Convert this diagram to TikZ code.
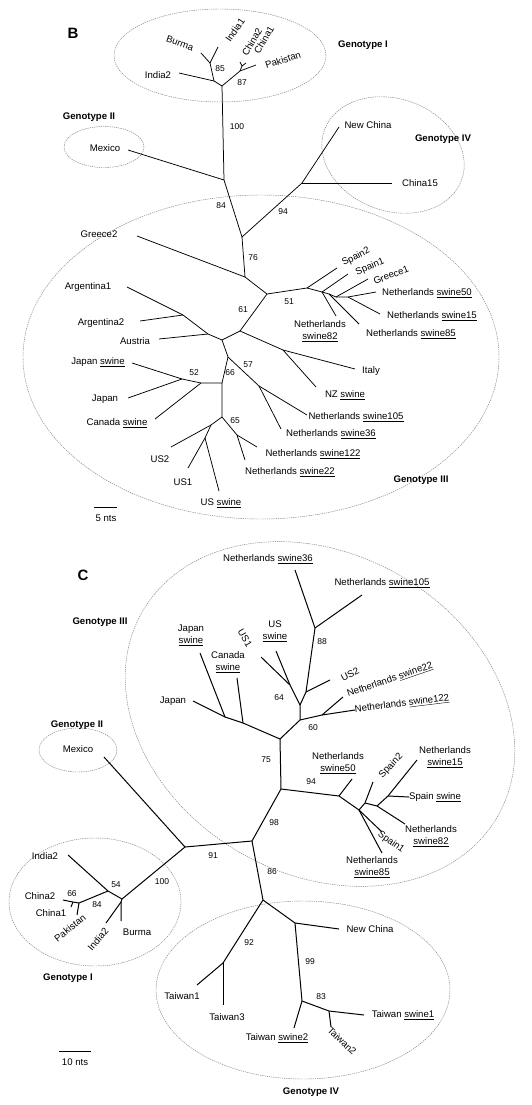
\documentclass[tikz,border=0pt]{standalone}
\usepackage{fontspec}
\setmainfont{Liberation Sans}
\newcommand{\sw}[1]{\underline{#1}}
\begin{document}
\begin{tikzpicture}[x=1pt,y=-1pt,
  br/.style={line width=0.75pt},
  brc/.style={line width=1pt},
  lab/.style={font=\fontsize{9.6}{12}\selectfont, inner sep=0pt, align=center},
  bs/.style={font=\fontsize{8.5}{10}\selectfont, inner sep=0pt},
  geno/.style={font=\fontsize{9.6}{11}\selectfont\bfseries, inner sep=0pt},
  grp/.style={draw=gray, line width=0.45pt, dash pattern=on 1.3pt off 0.9pt},
  panel/.style={font=\fontsize{15}{17}\selectfont\bfseries, inner sep=0pt}]
\useasboundingbox (0,0) rectangle (531,1105);
\fill[white] (0,0) rectangle (531,1105);

% ================= Panel B =================
\node[panel] (pB) at (73,33) {B};
\draw[grp] (220,55.5) ellipse [x radius=106pt, y radius=46.5pt];
\draw[grp] (104,147) ellipse [x radius=40pt, y radius=20.5pt];
\draw[grp, rotate around={-20:(393,155)}] (393,155) ellipse [x radius=73pt, y radius=56pt];
\draw[grp] (261,357) ellipse [x radius=238pt, y radius=162pt];

\foreach \n/\p in {T/{222,86}, nA/{214,81}, n85/{210,63}, lBurma/{201,53}, lIndiaA/{218,47},
  lIndiaB/{179,73}, n87/{240,71}, nCh/{242,66}, lChB/{240,62}, lChA/{246,63}, lPak/{256,65},
  J1/{224,180}, lMex/{128,150}, J2/{242,237}, n94/{302,183}, lNewChina/{339,127}, lChinaF/{392,183},
  J76/{245,277}, lGreeceB/{137,236}, J61/{267,294}, J51/{307,288}, lSpainB/{337,268},
  nS/{322,292}, lSpainA/{348,274}, lNLe/{336,316}, nT/{329,294}, lNLf/{359,324},
  nG/{336,297}, lGreeceA/{368,279}, nN/{348,297}, lNLa/{376,292}, lNLb/{380,314},
  nX/{240,331}, nI/{283,350}, lItaly/{355,369}, lNZ/{316,387}, nY/{222,340}, nAr/{208,334},
  lAustria/{159,339}, nArg/{183,315}, lArgA/{127,287}, lArgB/{140,321},
  n57/{228,357}, nJ/{259,386}, lNLc/{307,415}, lNLd/{281,429}, n66/{222,383},
  n52/{201,383}, nJp/{182,379}, lJpSw/{132,363}, lJp/{128,398}, lCan/{155,419},
  n65/{222,417}, nNL/{237,435}, lNLg/{257,447}, lNLh/{245,460}, nUS/{211,425},
  lUSB/{171,447}, nUSA/{205,438}, lUSA/{188,468}, lUSsw/{219,491}}
  {\coordinate (\n) at (\p);}

\draw[br] (lBurma) -- (n85) -- (lIndiaA);
\draw[br] (n85) -- (nA) -- (T);
\draw[br] (lIndiaB) -- (nA);
\draw[br] (T) -- (n87) -- (lPak);
\draw[br] (n87) -- (nCh) -- (lChB);
\draw[br] (nCh) -- (lChA);
\draw[br] (T) -- (J1) -- (lMex);
\draw[br] (J1) -- (J2) -- (n94) -- (lNewChina);
\draw[br] (n94) -- (lChinaF);
\draw[br] (J2) -- (J76) -- (lGreeceB);
\draw[br] (J76) -- (J61) -- (J51) -- (lSpainB);
\draw[br] (J51) -- (nS) -- (lSpainA);
\draw[br] (nS) -- (lNLe);
\draw[br] (nS) -- (nT) -- (lNLf);
\draw[br] (nT) -- (nG) -- (lGreeceA);
\draw[br] (nG) -- (nN) -- (lNLa);
\draw[br] (nN) -- (lNLb);
\draw[br] (J61) -- (nX) -- (nI) -- (lItaly);
\draw[br] (nI) -- (lNZ);
\draw[br] (nX) -- (nY) -- (nAr) -- (lAustria);
\draw[br] (nAr) -- (nArg) -- (lArgA);
\draw[br] (nArg) -- (lArgB);
\draw[br] (nY) -- (n57) -- (nJ) -- (lNLc);
\draw[br] (nJ) -- (lNLd);
\draw[br] (n57) -- (n66) -- (n52) -- (nJp) -- (lJpSw);
\draw[br] (nJp) -- (lJp);
\draw[br] (n52) -- (lCan);
\draw[br] (n66) -- (n65) -- (nNL) -- (lNLg);
\draw[br] (nNL) -- (lNLh);
\draw[br] (n65) -- (nUS) -- (lUSB);
\draw[br] (nUS) -- (nUSA) -- (lUSA);
\draw[br] (nUSA) -- (lUSsw);

\node[lab, rotate=-20] (tBurma) at (180,43) {Burma};
\node[lab, rotate=55] (tIndiaA) at (235,30) {India1};
\node[lab, rotate=60] (tChB) at (252,42) {China2};
\node[lab, rotate=60] (tChA) at (264,40) {China1};
\node[lab, rotate=18] (tPak) at (283,60) {Pakistan};
\node[lab] (tIndiaB) at (158,75) {India2};
\node[bs] (b85) at (220,69) {85};
\node[bs] (b87) at (242,83) {87};
\node[geno] (gI) at (363,45) {Genotype I};
\node[geno] (gII) at (89,117) {Genotype II};
\node[lab] (tMex) at (105,148) {Mexico};
\node[bs] (b100) at (237,127) {100};
\node[lab] (tNewChina) at (368,125) {New China};
\node[geno] (gIV) at (443,139) {Genotype IV};
\node[lab] (tChinaF) at (420,183) {China15};
\node[bs] (b84) at (221,206) {84};
\node[bs] (b94) at (283,212) {94};
\node[lab] (tGreeceB) at (99,234) {Greece2};
\node[bs] (b76) at (253,258) {76};
\node[lab, rotate=27] (tSpainB) at (356,257) {Spain2};
\node[lab, rotate=23] (tSpainA) at (370,267) {Spain1};
\node[lab, rotate=21] (tGreeceA) at (391,275) {Greece1};
\node[lab] (tNLa) at (427,293) {Netherlands \sw{swine50}};
\node[lab] (tNLb) at (432,316) {Netherlands \sw{swine15}};
\node[lab] (tNLf) at (411,334) {Netherlands \sw{swine85}};
\node[lab] (tNLe) at (320,331) {Netherlands\\\sw{swine82}};
\node[bs] (b51) at (289,302) {51};
\node[bs] (b61) at (243,310) {61};
\node[lab] (tArgA) at (88,287) {Argentina1};
\node[lab] (tArgB) at (101,323) {Argentina2};
\node[lab] (tAustria) at (135,341) {Austria};
\node[lab] (tItaly) at (371,371) {Italy};
\node[lab] (tNZ) at (345,395) {NZ \sw{swine}};
\node[bs] (b57) at (248,365) {57};
\node[bs] (b66) at (230,373) {66};
\node[bs] (b52) at (194,373) {52};
\node[lab] (tJpSw) at (98,362) {Japan \sw{swine}};
\node[lab] (tJp) at (105,399) {Japan};
\node[lab] (tCan) at (117,423) {Canada \sw{swine}};
\node[lab] (tNLc) at (356,417) {Netherlands \sw{swine105}};
\node[lab] (tNLd) at (331,434) {Netherlands \sw{swine36}};
\node[bs] (b65) at (235,421) {65};
\node[lab] (tNLg) at (313,454) {Netherlands \sw{swine122}};
\node[lab] (tNLh) at (290,472) {Netherlands \sw{swine22}};
\node[lab] (tUSB) at (160,459) {US2};
\node[lab] (tUSA) at (183,482) {US1};
\node[lab] (tUSsw) at (221,503) {US \sw{swine}};
\node[geno] (gIII) at (421,480) {Genotype III};
\coordinate (sbBa) at (94,507); \coordinate (sbBb) at (117,507);
\draw[line width=0.8pt] (sbBa) -- (sbBb);
\node[lab] (tsB) at (106,518) {5 nts};

% ================= Panel C =================
\node[panel] (pC) at (83,575) {C};
\draw[grp, rotate around={-30:(320,714)}] (320,714) ellipse [x radius=205pt, y radius=160pt];
\draw[grp] (78,750) ellipse [x radius=39pt, y radius=22pt];
\draw[grp] (95,902) ellipse [x radius=86pt, y radius=64pt];
\draw[grp] (303,990) ellipse [x radius=147pt, y radius=89pt];

\foreach \n/\p in {cJ91/{185,847}, clMex/{104,757}, cJ100/{122,899}, cJ98/{252,841},
  cJa/{281,789}, cJ75/{280,739}, cnCan/{243,723}, cnJp/{225,717}, clJpSw/{200,653},
  clJp/{193,701}, clCan/{237,678}, cnA/{300,720}, cJ64/{300,705}, cnUS/{290,685},
  clUSA/{261,657}, clUSsw/{276,651}, cJ88/{306,692}, clUSB/{330,680}, cn88/{315,628},
  clNLd/{295,570}, clNLc/{362,595}, cn60/{322,715}, clNLh/{343,697}, clNLg/{355,710},
  cJ94/{339,796}, clNLa/{352,779}, cnB/{359,810}, clNLf/{382,853}, clSpA/{382,832},
  cnC/{365,803}, clSpB/{373,782}, cnD/{377,806}, clNLe/{405,824}, cnE/{388,796},
  clNLb/{417,760}, clSpSw/{409,797}, cJ86/{263,900}, cn92/{223,963}, clTwA/{197,985},
  clTwC/{223,1005}, cnNC/{295,923}, clNC/{339,929}, cn99/{302,1001}, clTwSwB/{294,1028},
  cn83/{329,1011}, clTwSwA/{364,1015}, clTwB/{331,1027}, cn54/{108,891}, clInB/{68,855},
  cn84/{79,903}, cn66/{73,902}, clChB/{63,900}, clChA/{71,907}, clPak/{77,915},
  cnIB/{121,902}, clBur/{121,921}, clInBb/{106,923}}
  {\coordinate (\n) at (\p);}

\draw[brc] (clMex) -- (cJ91) -- (cJ100);
\draw[brc] (cJ91) -- (cJ98) -- (cJa) -- (cJ75) -- (cnCan) -- (cnJp) -- (clJpSw);
\draw[brc] (cnJp) -- (clJp);
\draw[brc] (cnCan) -- (clCan);
\draw[brc] (cJ75) -- (cnA) -- (cJ64) -- (cnUS) -- (clUSA);
\draw[brc] (cnUS) -- (clUSsw);
\draw[brc] (cJ64) -- (cJ88) -- (clUSB);
\draw[brc] (cJ88) -- (cn88) -- (clNLd);
\draw[brc] (cn88) -- (clNLc);
\draw[brc] (cnA) -- (cn60) -- (clNLh);
\draw[brc] (cn60) -- (clNLg);
\draw[brc] (cJa) -- (cJ94) -- (clNLa);
\draw[brc] (cJ94) -- (cnB) -- (clNLf);
\draw[brc] (cnB) -- (clSpA);
\draw[brc] (cnB) -- (cnC) -- (clSpB);
\draw[brc] (cnC) -- (cnD) -- (clNLe);
\draw[brc] (cnD) -- (cnE) -- (clNLb);
\draw[brc] (cnE) -- (clSpSw);
\draw[brc] (cJ98) -- (cJ86) -- (cn92) -- (clTwA);
\draw[brc] (cn92) -- (clTwC);
\draw[brc] (cJ86) -- (cnNC) -- (clNC);
\draw[brc] (cnNC) -- (cn99) -- (clTwSwB);
\draw[brc] (cn99) -- (cn83) -- (clTwSwA);
\draw[brc] (cn83) -- (clTwB);
\draw[brc] (cJ100) -- (cn54) -- (clInB);
\draw[brc] (cn54) -- (cn84) -- (cn66) -- (clChB);
\draw[brc] (cn66) -- (clChA);
\draw[brc] (cn84) -- (clPak);
\draw[brc] (cJ100) -- (cnIB) -- (clBur);
\draw[brc] (cnIB) -- (clInBb);

\node[geno] (cgIII) at (100,622) {Genotype III};
\node[lab] (ctNLd) at (268,559) {Netherlands \sw{swine36}};
\node[lab] (ctNLc) at (382,583) {Netherlands \sw{swine105}};
\node[bs] (cb88) at (322,642) {88};
\node[lab] (ctJpSw) at (191,635) {Japan\\\sw{swine}};
\node[lab] (ctCan) at (228,662) {Canada\\\sw{swine}};
\node[lab, rotate=-60] (ctUSA) at (245,638) {US1};
\node[lab] (ctUSsw) at (275,631) {US\\\sw{swine}};
\node[lab, rotate=27] (ctUSB) at (350,674) {US2};
\node[lab, rotate=19] (ctNLh) at (390,680) {Netherlands \sw{swine22}};
\node[lab, rotate=7] (ctNLg) at (402,704) {Netherlands \sw{swine122}};
\node[lab] (ctJp) at (173,701) {Japan};
\node[bs] (cb64) at (279,698) {64};
\node[bs] (cb60) at (313,728) {60};
\node[bs] (cb75) at (266,760) {75};
\node[bs] (cb94) at (311,782) {94};
\node[lab] (ctNLa) at (338,763) {Netherlands\\\sw{swine50}};
\node[lab, rotate=47] (ctSpB) at (391,766) {Spain2};
\node[lab] (ctNLb) at (445,757) {Netherlands\\\sw{swine15}};
\node[lab] (ctSpSw) at (435,797) {Spain \sw{swine}};
\node[lab] (ctNLe) at (431,836) {Netherlands\\\sw{swine82}};
\node[lab, rotate=-35] (ctSpA) at (391,842) {Spain1};
\node[lab] (ctNLf) at (372,867) {Netherlands\\\sw{swine85}};
\node[bs] (cb98) at (274,823) {98};
\node[bs] (cb91) at (213,856) {91};
\node[bs] (cb86) at (272,872) {86};
\node[bs] (cb100) at (162,882) {100};
\node[bs] (cb54) at (116,885) {54};
\node[lab] (ctInB) at (45,856) {India2};
\node[bs] (cb66) at (72,894) {66};
\node[lab] (ctChB) at (40,896) {China2};
\node[bs] (cb84) at (97,905) {84};
\node[lab] (ctChA) at (51,913) {China1};
\node[lab, rotate=38] (ctPak) at (70,928) {Pakistan};
\node[lab, rotate=50] (ctInBb) at (98,939) {India2};
\node[lab] (ctBur) at (137,932) {Burma};
\node[geno] (cgI) at (68,978) {Genotype I};
\node[geno] (cgII) at (77,725) {Genotype II};
\node[lab] (ctMex) at (78,749) {Mexico};
\node[lab] (ctNC) at (370,929) {New China};
\node[bs] (cb92) at (249,943) {92};
\node[bs] (cb99) at (310,962) {99};
\node[bs] (cb83) at (321,997) {83};
\node[lab] (ctTwA) at (182,996) {Taiwan1};
\node[lab] (ctTwC) at (227,1017) {Taiwan3};
\node[lab] (ctTwSwB) at (277,1038) {Taiwan \sw{swine2}};
\node[lab] (ctTwSwA) at (403,1015) {Taiwan \sw{swine1}};
\node[lab, rotate=-43] (ctTwB) at (342,1041) {Taiwan2};
\node[geno] (cgIV) at (311,1092) {Genotype IV};
\coordinate (sbCa) at (59,1051); \coordinate (sbCb) at (91,1051);
\draw[line width=0.8pt] (sbCa) -- (sbCb);
\node[lab] (ctsC) at (75,1062) {10 nts};
\end{tikzpicture}
\end{document}
